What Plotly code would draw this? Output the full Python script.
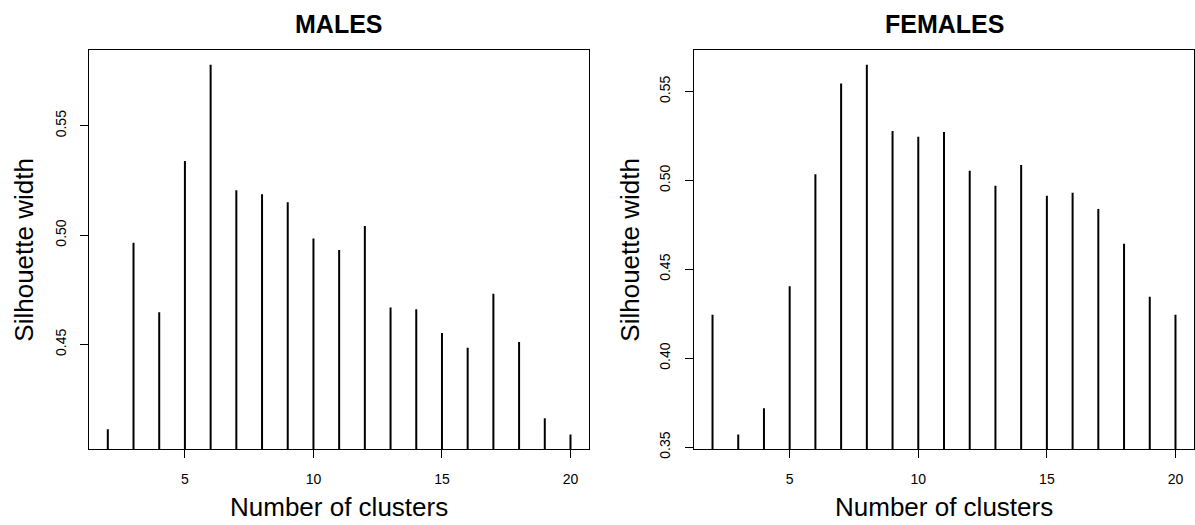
import plotly.graph_objects as go

clusters = list(range(2, 21))
males = [0.4112, 0.4965, 0.4647, 0.5339, 0.5779, 0.5205, 0.5187, 0.5150, 0.4985,
         0.4932, 0.5042, 0.4669, 0.4661, 0.4552, 0.4485, 0.4732, 0.4511, 0.4162, 0.4088]
females = [0.4244, 0.3571, 0.3719, 0.4404, 0.5034, 0.5545, 0.5650, 0.5278, 0.5245,
           0.5272, 0.5054, 0.4970, 0.5086, 0.4914, 0.4931, 0.4839, 0.4643, 0.4345, 0.4244]
x_ticks = [5, 10, 15, 20]
male_yticks = [0.45, 0.50, 0.55]
female_yticks = [0.35, 0.40, 0.45, 0.50, 0.55]

W, H = 1195, 525
FONT = "Liberation Sans, Arial, sans-serif"


def stems(xs, ys):
    px, py = [], []
    for a, b in zip(xs, ys):
        px += [a, a, None]
        py += [0, b, None]
    return px, py


def rng(vals):
    lo, hi = min(vals), max(vals)
    d = (hi - lo) * 0.04
    return [lo - d, hi + d]


xr = rng(clusters)

panels = [
    dict(x0=89.3, x1=589.0),
    dict(x0=694.0, x1=1194.0),
]
top, bottom = 50.0, 449.3
ydom = [(H - bottom) / H, (H - top) / H]

fig = go.Figure()
for i, vals in enumerate([males, females]):
    px, py = stems(clusters, vals)
    suffix = "" if i == 0 else "2"
    fig.add_trace(go.Scatter(x=px, y=py, mode="lines",
                             line=dict(color="black", width=2),
                             xaxis="x" + suffix, yaxis="y" + suffix,
                             showlegend=False, hoverinfo="skip"))

common_axis = dict(showline=True, linecolor="black", linewidth=1, mirror=True,
                   ticks="outside", ticklen=8, tickwidth=1, tickcolor="black",
                   showgrid=False, zeroline=False, automargin=False,
                   tickfont=dict(family=FONT, size=14, color="black"))

for i, (yt, vals) in enumerate([(male_yticks, males), (female_yticks, females)]):
    p = panels[i]
    xd = [p["x0"] / W, p["x1"] / W]
    suffix = "" if i == 0 else "2"
    fig.update_layout(**{
        "xaxis" + suffix: dict(domain=xd, range=xr, tickvals=x_ticks,
                               anchor="y" + suffix, ticklabelstandoff=9,
                               **common_axis),
        "yaxis" + suffix: dict(domain=ydom, range=rng(vals), tickvals=yt,
                               tickformat=".2f", tickangle=-90,
                               anchor="x" + suffix, ticklabelstandoff=9,
                               **common_axis),
    })

annotations = []
titles = ["MALES", "FEMALES"]
ylab_x = [24.0, 630.0]
for i, p in enumerate(panels):
    cx = (p["x0"] + p["x1"]) / 2 / W
    annotations.append(dict(text="<b>" + titles[i] + "</b>", x=cx, y=(H - 24.2) / H,
                            xref="paper", yref="paper", showarrow=False,
                            xanchor="center", yanchor="middle",
                            font=dict(family=FONT, size=25, color="black")))
    annotations.append(dict(text="Number of clusters", x=cx, y=(H - 506.7) / H,
                            xref="paper", yref="paper", showarrow=False,
                            xanchor="center", yanchor="middle",
                            font=dict(family=FONT, size=26, color="black")))
    annotations.append(dict(text="Silhouette width", x=ylab_x[i] / W,
                            y=(ydom[0] + ydom[1]) / 2,
                            xref="paper", yref="paper", showarrow=False,
                            textangle=-90, xanchor="center", yanchor="middle",
                            font=dict(family=FONT, size=26, color="black")))

fig.update_layout(width=W, height=H, autosize=False,
                  margin=dict(l=0, r=0, t=0, b=0),
                  paper_bgcolor="white", plot_bgcolor="white",
                  annotations=annotations, showlegend=False)

fig.write_html("out.html",
               config={"responsive": False, "displayModeBar": False},
               post_script="document.body.style.margin='0';document.body.style.overflow='hidden';")
